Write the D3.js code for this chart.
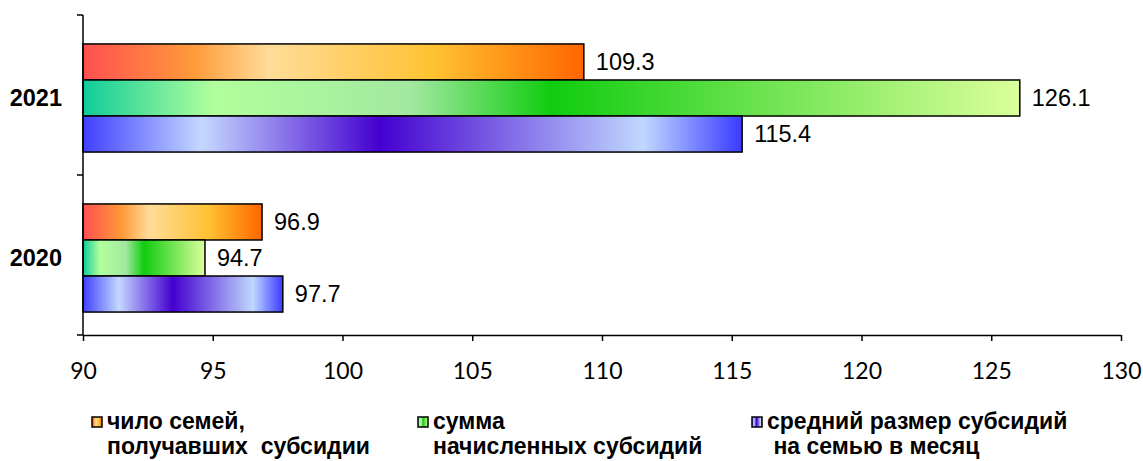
<!DOCTYPE html>
<html>
<head>
<meta charset="utf-8">
<script src="https://cdn.jsdelivr.net/npm/d3@7"></script>
<style>
  body { margin: 0; background: #fff; }
  svg { display: block; }
</style>
</head>
<body>
<svg></svg>
<script>
let width = 1143;
let height = 461;
let margin = ({top: 15, right: 22, bottom: 126, left: 83});

// data
let years = ["2021", "2020"];
let seriesKeys = ["families", "sum", "average"];
let seriesNames = [
    ["чило семей,", "получавших  субсидии"],
    ["сумма", "начисленных субсидий"],
    ["средний размер субсидий", " на семью в месяц"]
];
let values2021 = [109.3, 126.1, 115.4];
let values2020 = [96.9, 94.7, 97.7];
let xTicks = [90, 95, 100, 105, 110, 115, 120, 125, 130];

// gradient stops per series (fill only)
let gradients = {
    families: [[0, "#ff5050"], [0.22, "#ff9a3a"], [0.37, "#ffdc98"], [0.7, "#ffc232"], [1, "#ff6600"]],
    sum: [[0, "#10cc99"], [0.14, "#b2ff9c"], [0.35, "#a2e8a0"], [0.5, "#10cc10"], [1, "#dcff9c"]],
    average: [[0, "#4040ff"], [0.18, "#c4d8ff"], [0.45, "#4400d0"], [0.85, "#c0d8ff"], [1, "#3a3aff"]]
};

const rows = years.map((y, i) => ({
    year: y,
    values: seriesKeys.map((k, j) => ({key: k, value: (i === 0 ? values2021 : values2020)[j]}))
}));

const svg = d3.select("svg")
    .attr("width", width)
    .attr("height", height)
    .attr("viewBox", [0, 0, width, height]);

const defs = svg.append("defs");
for (const k of seriesKeys) {
    defs.append("linearGradient")
        .attr("id", "g-" + k)
        .attr("x1", 0).attr("x2", 1).attr("y1", 0).attr("y2", 0)
        .selectAll("stop")
        .data(gradients[k])
        .join("stop")
        .attr("offset", d => d[0])
        .attr("stop-color", d => d[1]);
}

let x = d3.scaleLinear()
    .domain([90, 130])
    .range([margin.left, width - margin.right]);

let y0 = d3.scaleBand()
    .domain(years)
    .range([margin.top, height - margin.bottom])
    .padding(0);

let y1 = d3.scaleBand()
    .domain(seriesKeys)
    .range([3, y0.bandwidth() + 3])
    .paddingOuter(0.72)
    .paddingInner(0);

// bars
const groups = svg.append("g")
    .selectAll("g")
    .data(rows)
    .join("g")
    .attr("transform", d => `translate(0,${y0(d.year)})`);

groups.selectAll("rect")
    .data(d => d.values)
    .join("rect")
    .attr("x", x(90))
    .attr("y", d => y1(d.key))
    .attr("width", d => x(d.value) - x(90))
    .attr("height", y1.bandwidth())
    .attr("fill", d => `url(#g-${d.key})`)
    .attr("stroke", "#000")
    .attr("stroke-width", 1.5);

groups.selectAll("text")
    .data(d => d.values)
    .join("text")
    .attr("x", d => x(d.value) + 12)
    .attr("y", d => y1(d.key) + y1.bandwidth() / 2)
    .attr("dy", "0.35em")
    .attr("font-family", "'Liberation Sans', Arial, sans-serif")
    .attr("font-size", 23.5)
    .attr("fill", "#000")
    .text(d => d.value.toFixed(1));

// x axis
const xAxis = svg.append("g")
    .attr("transform", `translate(0,${height - margin.bottom})`)
    .call(d3.axisBottom(x).tickValues(xTicks).tickSize(6).tickSizeOuter(0).tickPadding(22));
xAxis.select(".domain").attr("stroke", "#000").attr("stroke-width", 1.5);
xAxis.selectAll(".tick line").attr("stroke", "#000").attr("stroke-width", 1.5);
xAxis.selectAll(".tick text")
    .attr("font-family", "Lato, 'Open Sans', sans-serif")
    .attr("font-size", 23)
    .attr("fill", "#000");

// y axis: ticks at band borders, labels at band centres
const yAxis = svg.append("g")
    .attr("transform", `translate(${margin.left},0)`);
yAxis.append("line")
    .attr("x1", 0).attr("x2", 0)
    .attr("y1", margin.top).attr("y2", height - margin.bottom)
    .attr("stroke", "#000").attr("stroke-width", 1.5);
const borders = years.map(y => y0(y)).concat([y0(years[years.length - 1]) + y0.bandwidth()]);
yAxis.selectAll("line.tk")
    .data(borders)
    .join("line")
    .attr("class", "tk")
    .attr("x1", -6).attr("x2", 0)
    .attr("y1", d => d).attr("y2", d => d)
    .attr("stroke", "#000").attr("stroke-width", 1.5);
yAxis.selectAll("text")
    .data(years)
    .join("text")
    .attr("x", -21)
    .attr("y", d => y0(d) + y0.bandwidth() / 2 + 3)
    .attr("dy", "0.35em")
    .attr("text-anchor", "end")
    .attr("font-family", "'Liberation Sans', Arial, sans-serif")
    .attr("font-weight", "bold")
    .attr("font-size", 23.5)
    .attr("fill", "#000")
    .text(d => d);

// legend
let legendX = [92, 418, 752];
const legend = svg.append("g")
    .selectAll("g")
    .data(seriesKeys)
    .join("g")
    .attr("transform", (d, i) => `translate(${legendX[i]},417)`);

legend.append("rect")
    .attr("x", 0).attr("y", 0)
    .attr("width", 10).attr("height", 10)
    .attr("fill", d => `url(#g-${d})`)
    .attr("stroke", "#000")
    .attr("stroke-width", 1.5);

legend.append("text")
    .attr("font-family", "'Liberation Sans', Arial, sans-serif")
    .attr("font-weight", "bold")
    .attr("font-size", 23)
    .attr("fill", "#000")
    .attr("xml:space", "preserve")
    .selectAll("tspan")
    .data((d, i) => seriesNames[i])
    .join("tspan")
    .attr("x", 15)
    .attr("y", (d, i) => 12 + i * 25)
    .text(d => d);
</script>
</body>
</html>
